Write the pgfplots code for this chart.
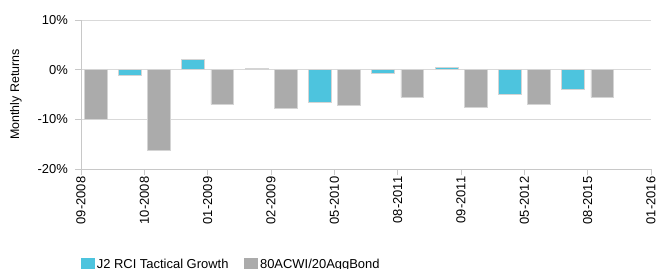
\documentclass[border=0pt]{standalone}
\usepackage{fontspec}
\setmainfont{Liberation Sans}
\usepackage{pgfplots}
\pgfplotsset{compat=1.18}
\definecolor{jcyan}{HTML}{4DC4DE}
\definecolor{jgrey}{HTML}{ABABAB}
\definecolor{jedge}{HTML}{D4D4D4}
\definecolor{jgrid}{HTML}{D9D9D9}
\definecolor{jaxis}{HTML}{C8C8C8}
\begin{document}
\begin{tikzpicture}
\useasboundingbox (-81bp,-100bp) rectangle (575bp,169bp);
\begin{axis}[
  at={(0,0)}, anchor=south west,
  scale only axis, width=570bp, height=149bp,
  xmin=0, xmax=9, ymin=-20, ymax=10,
  axis x line*=bottom, axis y line*=left,
  axis line style={jaxis, line width=0.8pt},
  xtick={0,...,9},
  xticklabels={09-2008,10-2008,01-2009,02-2009,05-2010,08-2011,09-2011,05-2012,08-2015,01-2016},
  ytick={-20,-10,0,10},
  yticklabels={-20\%,-10\%,0\%,10\%},
  tick align=outside, major tick length=6bp,
  tick style={jaxis, line width=0.8pt},
  ymajorgrids, grid style={jgrid, line width=0.9pt},
  xticklabel style={rotate=90, anchor=east, font=\fontsize{13}{15}\selectfont, inner sep=1.5bp},
  yticklabel style={font=\fontsize{13}{15}\selectfont, inner sep=2bp, xshift=-5bp},
  ylabel={Monthly Returns},
  every axis y label/.style={at={(axis description cs:-0.114,0.5)}, rotate=90, anchor=center, font=\fontsize{12.5}{14}\selectfont},
  ybar, bar width=0.36,
  legend columns=2,
  legend style={at={(axis description cs:0,-0.59)}, anchor=north west, draw=none, fill=none,
    font=\fontsize{13}{15}\selectfont, inner sep=0pt,
    /tikz/every even column/.append style={column sep=14bp}},
  legend cell align=left,
]
\addplot[fill=jcyan, draw=jedge, line width=0.6pt, bar shift=-0.23,
  legend image code/.code={\fill[jcyan] (0bp,-6bp) rectangle (13bp,6bp);}]
  coordinates {(1,-1.2) (2,2.0) (3,0.3) (4,-6.6) (5,-0.7) (6,0.4) (7,-4.9) (8,-3.9)};
\addlegendentry{J2 RCI Tactical Growth}
\addplot[fill=jgrey, draw=jedge, line width=0.6pt, bar shift=0.23,
  legend image code/.code={\fill[jgrey] (0bp,-6bp) rectangle (13bp,6bp);}]
  coordinates {(0,-10.0) (1,-16.2) (2,-7.0) (3,-7.7) (4,-7.2) (5,-5.6) (6,-7.5) (7,-7.0) (8,-5.6)};
\addlegendentry{80ACWI/20AggBond}
\end{axis}
\end{tikzpicture}
\end{document}
